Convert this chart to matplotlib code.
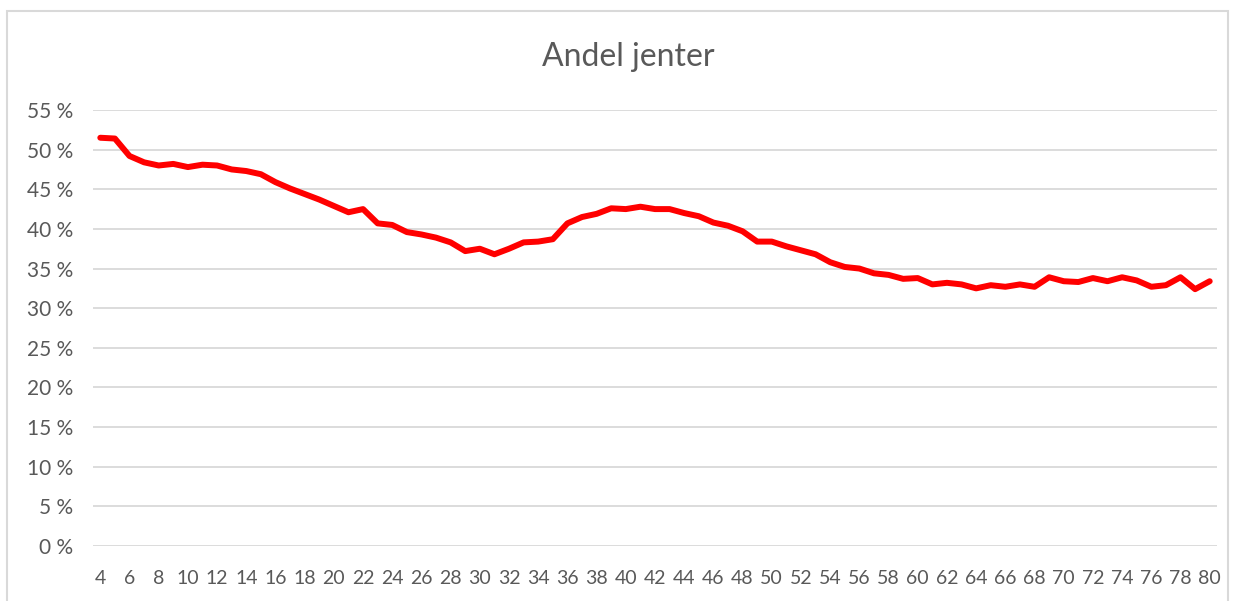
import matplotlib.pyplot as plt
import numpy as np
from matplotlib.patches import Rectangle
from matplotlib.ticker import FuncFormatter, MultipleLocator

# alder 4..80, andel jenter i prosent
ages = list(range(4, 81))
share = [
    51.5, 51.4, 49.2, 48.4, 48.0, 48.2, 47.8, 48.1, 48.0, 47.5,
    47.3, 46.9, 45.9, 45.1, 44.4, 43.7, 42.9, 42.1, 42.5, 40.7,
    40.5, 39.6, 39.3, 38.9, 38.3, 37.2, 37.5, 36.8, 37.5, 38.3,
    38.4, 38.7, 40.7, 41.5, 41.9, 42.6, 42.5, 42.8, 42.5, 42.5,
    42.0, 41.6, 40.8, 40.4, 39.7, 38.4, 38.4, 37.8, 37.3, 36.8,
    35.8, 35.2, 35.0, 34.4, 34.2, 33.7, 33.8, 33.0, 33.2, 33.0,
    32.5, 32.9, 32.7, 33.0, 32.7, 33.9, 33.4, 33.3, 33.8, 33.4,
    33.9, 33.5, 32.7, 32.9, 33.9, 32.4, 33.4,
]
title = 'Andel jenter'

grey = '#595959'
font = ['Lato', 'DejaVu Sans']

fig = plt.figure(figsize=(12.39, 6.01), dpi=100)
# ramme rundt diagrammet
fig.patches.append(Rectangle((7 / 1239, -0.05), (1228 - 7) / 1239, 1.05 - 11 / 601,
                             transform=fig.transFigure, fill=False,
                             edgecolor='#d9d9d9', linewidth=1.5))

ax = fig.add_axes([93 / 1239, 55 / 601, 1124 / 1239, 436 / 601])
ax.plot(ages, share, color='#ff0000', linewidth=4.3, solid_joinstyle='round',
        solid_capstyle='round', zorder=3)

ax.set_xlim(3.5, 80.5)
ax.set_ylim(0, 55)
ax.set_xticks(ages[::2])
ax.yaxis.set_major_locator(MultipleLocator(5))
ax.yaxis.set_major_formatter(FuncFormatter(lambda v, p: f'{int(round(v))} %'))

ax.grid(axis='y', color='#d9d9d9', linewidth=1.3)
ax.set_axisbelow(True)
for s in ax.spines.values():
    s.set_visible(False)
ax.tick_params(length=0, colors=grey)
ax.tick_params(axis='x', pad=17, labelsize=14)
ax.tick_params(axis='y', pad=14, labelsize=15)
for lab in ax.get_xticklabels() + ax.get_yticklabels():
    lab.set_family(font)

fig.text(628 / 1239, 1 - 57 / 601, title, ha='center', va='center',
         fontsize=23, color=grey, family=font)

fig.savefig('out.png', dpi=100)
